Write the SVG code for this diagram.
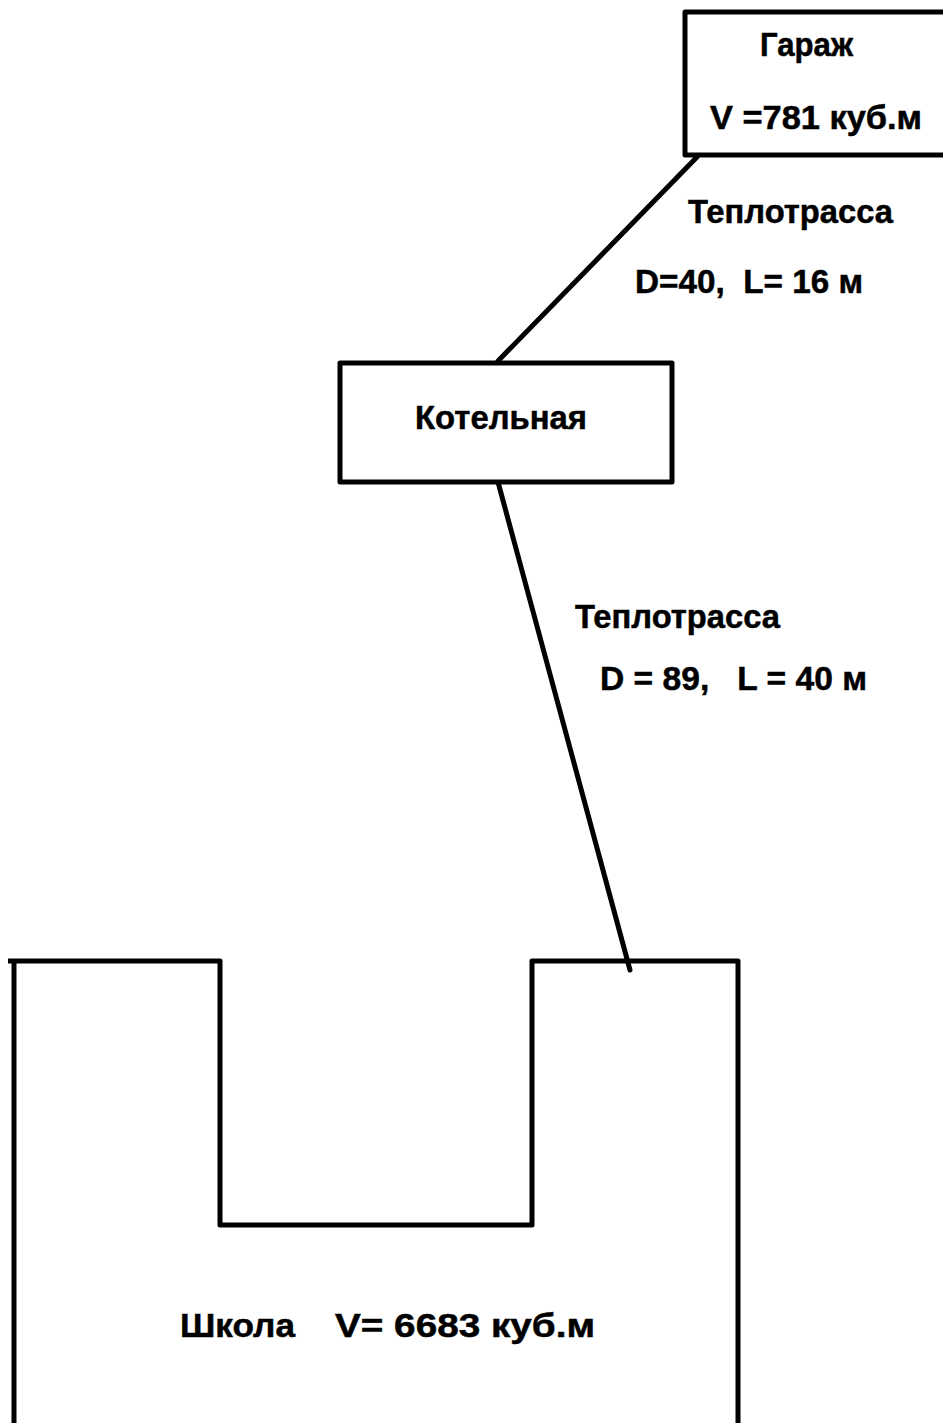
<svg xmlns="http://www.w3.org/2000/svg" width="943" height="1423" viewBox="0 0 943 1423">
  <style>
    .box { fill: #fff; stroke: #000; stroke-width: 5; stroke-linejoin: round; }
    .wall { fill: none; stroke: #000; stroke-width: 5; stroke-linejoin: round; }
    .pipe { fill: none; stroke: #000; stroke-width: 5; stroke-linecap: round; }
    .lbl { font-family: "Liberation Sans", Arial, sans-serif; font-weight: bold; font-size: 33px; fill: #000; stroke: #000; stroke-width: 0.5; }
  </style>
  <rect width="943" height="1423" fill="#fff"/>

  <!-- heating mains -->
  <g id="connectors">
    <line class="pipe" x1="697" y1="157" x2="498" y2="361"/>
    <line class="pipe" x1="498" y1="482" x2="630" y2="970"/>
    <text class="lbl" x="688" y="223" textLength="205" lengthAdjust="spacingAndGlyphs">Теплотрасса</text>
    <text class="lbl" x="635" y="293" textLength="228" lengthAdjust="spacingAndGlyphs" xml:space="preserve">D=40,  L= 16 м</text>
    <text class="lbl" x="575" y="628" textLength="205" lengthAdjust="spacingAndGlyphs">Теплотрасса</text>
    <text class="lbl" x="600" y="690" textLength="267" lengthAdjust="spacingAndGlyphs" xml:space="preserve">D = 89,   L = 40 м</text>
  </g>

  <!-- garage -->
  <g id="garage">
    <polyline class="wall" points="950,12 685,12 685,155 950,155"/>
    <text class="lbl" x="760" y="56" textLength="93" lengthAdjust="spacingAndGlyphs">Гараж</text>
    <text class="lbl" x="710" y="129" textLength="212" lengthAdjust="spacingAndGlyphs">V =781 куб.м</text>
  </g>

  <!-- boiler house -->
  <g id="boiler">
    <rect class="box" x="340" y="363" width="332" height="119"/>
    <text class="lbl" x="415" y="429" textLength="172" lengthAdjust="spacingAndGlyphs">Котельная</text>
  </g>

  <!-- school, U-shaped plan -->
  <g id="school">
    <polyline class="wall" points="14,1430 14,961"/>
    <polyline class="wall" points="8,961 220,961 220,1225 532,1225 532,961 738,961 738,1430"/>
    <text class="lbl" x="180" y="1337" textLength="115" lengthAdjust="spacingAndGlyphs">Школа</text>
    <text class="lbl" x="335" y="1337" textLength="260" lengthAdjust="spacingAndGlyphs">V= 6683 куб.м</text>
  </g>
</svg>
